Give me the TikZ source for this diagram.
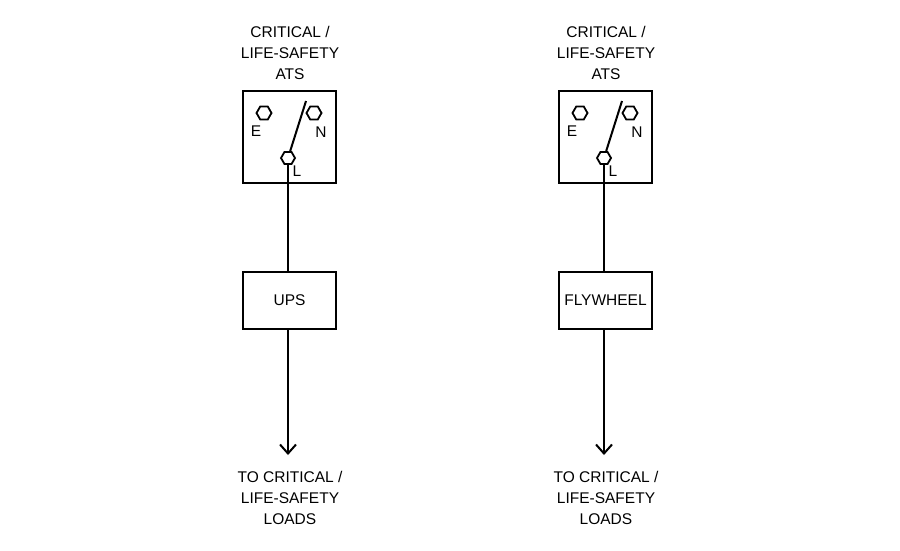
\documentclass[tikz,border=0pt]{standalone}
\usepackage{fontspec}
\setmainfont{Liberation Sans}
\usetikzlibrary{shapes.geometric,arrows.meta}
\begin{document}
\begin{tikzpicture}[x=1pt,y=-1pt,
  box/.style={draw,line width=2pt,inner sep=0pt},
  hexa/.style={draw,regular polygon,regular polygon sides=6,minimum size=15pt,inner sep=0pt,line width=1.8pt,fill=white},
  lbl/.style={font=\fontsize{15.5}{21}\selectfont,align=center},
  wire/.style={line width=2pt}]
\useasboundingbox (0,0) rectangle (900,550);
\foreach \dx/\nm/\txt in {0/a/UPS,316/b/FLYWHEEL}{
  \begin{scope}[xshift=\dx]
  \node[lbl] (\nm top) at (290,53) {CRITICAL /\\LIFE-SAFETY\\ATS};
  \node[box,minimum width=93pt,minimum height=92pt] (\nm ats) at (289.5,137) {};
  \node[hexa] (\nm E) at (264,113) {};
  \node[hexa] (\nm N) at (314,113) {};
  \node[hexa,minimum size=14pt] (\nm L) at (288,158) {};
  \coordinate (\nm sw) at (306,101);
  \draw[wire] (\nm L) -- (\nm sw);
  \node[lbl] at (256,131) {E};
  \node[lbl] at (321,132) {N};
  \node[lbl] at (297,171) {L};
  \node[box,minimum width=93pt,minimum height=57pt,lbl] (\nm dev) at (289.5,300.5) {\txt};
  \draw[wire] (\nm L) -- (\nm dev.north -| \nm L);
  \coordinate (\nm end) at (288,455);
  \draw[wire,-{Straight Barb[length=9pt,width=16pt,line width=2pt]}] (\nm dev.south -| \nm L) -- (\nm end);
  \node[lbl] (\nm bot) at (290,498) {TO CRITICAL /\\LIFE-SAFETY\\LOADS};
  \end{scope}
}
\end{tikzpicture}
\end{document}
